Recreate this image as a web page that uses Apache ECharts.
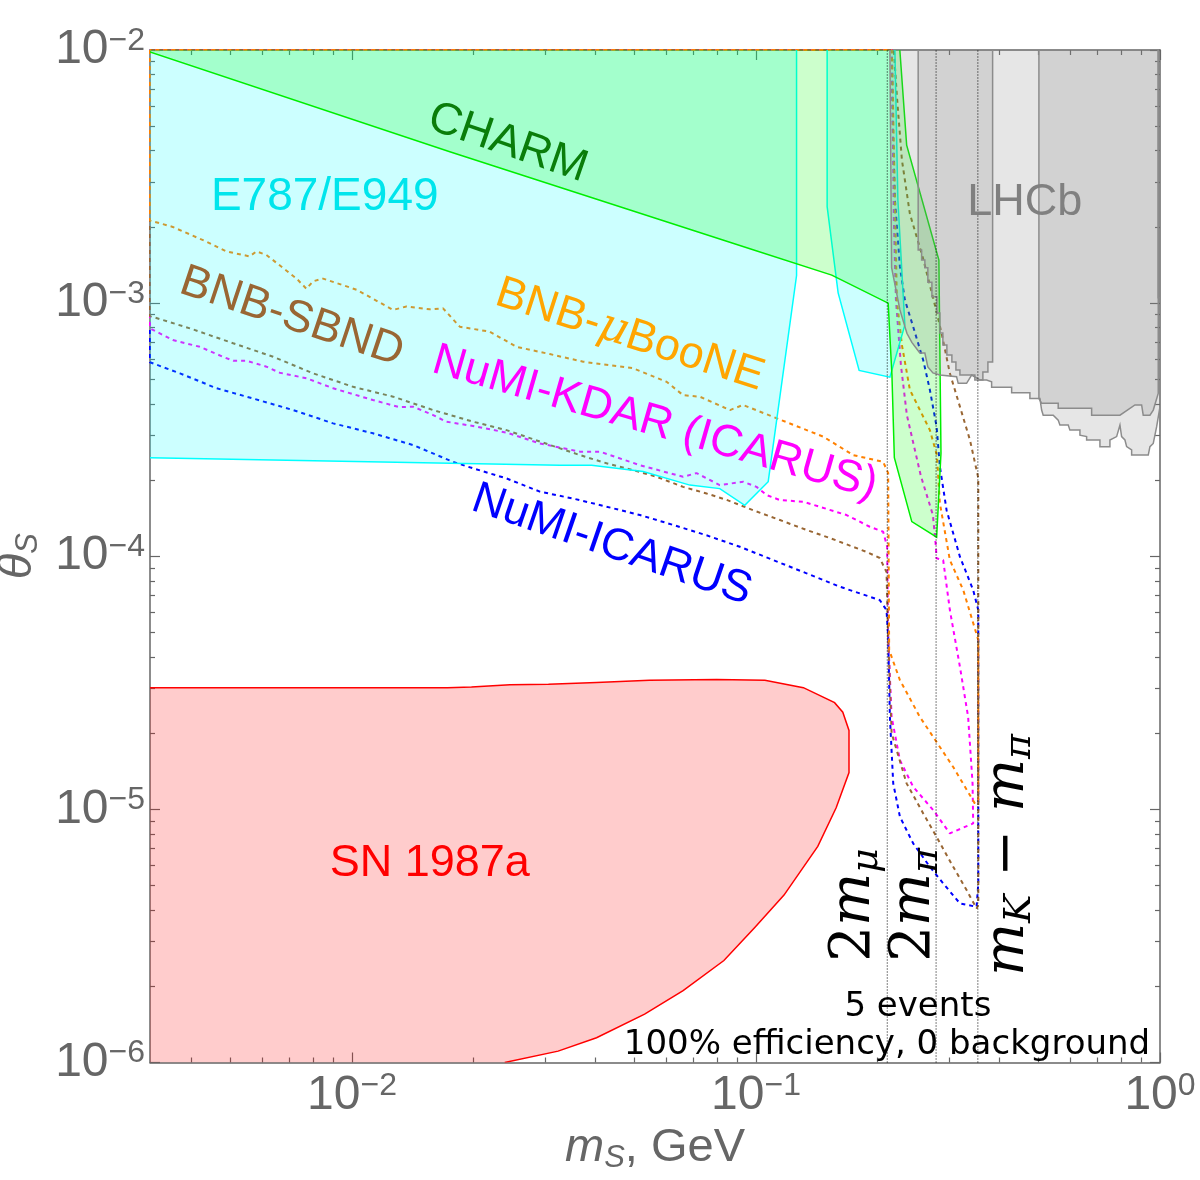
<!DOCTYPE html>
<html><head><meta charset="utf-8">
<script src="https://cdn.jsdelivr.net/npm/echarts@6/dist/echarts.min.js"></script>
<style>html,body{margin:0;padding:0;background:#fff}#c{width:1200px;height:1180px}</style>
</head><body><div id="c"></div>
<script>
// ---------- axis ranges and ticks ----------
const xRange = [0.003162, 1];          // m_S, GeV
const yRange = [1e-6, 1e-2];           // theta_S
const xMajorTicks = [0.01, 0.1, 1];
const xMinorTicks = [0.004,0.005,0.006,0.007,0.008,0.009,0.02,0.03,0.04,0.05,0.06,0.07,0.08,0.09,0.2,0.3,0.4,0.5,0.6,0.7,0.8,0.9];
const yMajorTicks = [1e-6, 1e-5, 1e-4, 1e-3, 1e-2];
const yMinorTicks = [2e-6,3e-6,4e-6,5e-6,6e-6,7e-6,8e-6,9e-6,2e-5,3e-5,4e-5,5e-5,6e-5,7e-5,8e-5,9e-5,2e-4,3e-4,4e-4,5e-4,6e-4,7e-4,8e-4,9e-4,2e-3,3e-3,4e-3,5e-3,6e-3,7e-3,8e-3,9e-3];

// ---------- excluded regions (boundary paths, [m_S, theta_S]) ----------
const charmEdge = [[0.00316,0.00982],[0.01746,0.00396],[0.0966,0.00164],[0.154,0.00129],[0.2124,0.001],[0.217,0.00052],[0.22,0.000245],[0.243,0.000137],[0.28,0.000119],[0.287,0.000256],[0.2836,0.00148],[0.236,0.00421],[0.227,0.01]];
const e787EdgeA = [[0.00316,0.000245],[0.03269,0.000229],[0.03916,0.000229],[0.05256,0.000216],[0.06859,0.000191],[0.08135,0.000185],[0.0938,0.000159],[0.1072,0.000197],[0.126,0.001285],[0.126,0.01]];
const e787EdgeB = [[0.150,0.01],[0.150,0.002404],[0.1597,0.001098],[0.18,0.000542],[0.2145,0.00051],[0.2336,0.00082],[0.2245,0.002555],[0.2207,0.01]];
const snEdge = [[0.00316,3.02e-5],[0.01723,3.02e-5],[0.01975,3.045e-5],[0.0246,3.11e-5],[0.03064,3.12e-5],[0.0403,3.17e-5],[0.05448,3.236e-5],[0.0799,3.26e-5],[0.1052,3.236e-5],[0.131,3.026e-5],[0.1565,2.64e-5],[0.164,2.42e-5],[0.1699,2.05e-5],[0.1699,1.398e-5],[0.1579,1.015e-5],[0.1422,7.14e-6],[0.1173,4.585e-6],[0.09956,3.433e-6],[0.08328,2.529e-6],[0.066,1.922e-6],[0.053,1.552e-6],[0.0403,1.253e-6],[0.03237,1.109e-6],[0.02388,1e-6]];
const lhcbOuterEdge = [[0.2145,0.01],[0.2166,0.00138],[0.2271,0.00094],[0.2363,0.00076],[0.2431,0.0007],[0.2544,0.000635],[0.2618,0.000635],[0.2663,0.00056],[0.2741,0.00053],[0.2852,0.00052],[0.3137,0.000512],[0.3166,0.000482],[0.3321,0.000482],[0.3418,0.00052],[0.3582,0.000497],[0.3722,0.000497],[0.383,0.000489],[0.383,0.000465],[0.4293,0.000465],[0.4293,0.000443],[0.4764,0.000443],[0.4764,0.00042],[0.5044,0.00042],[0.5093,0.000378],[0.5139,0.000361],[0.5441,0.000361],[0.5598,0.000345],[0.5652,0.00033],[0.5927,0.00033],[0.5984,0.000315],[0.6336,0.000315],[0.6336,0.000301],[0.6582,0.000297],[0.6582,0.000288],[0.7101,0.000288],[0.7101,0.000271],[0.7517,0.000271],[0.7517,0.000288],[0.781,0.000297],[0.7959,0.00033],[0.8035,0.000297],[0.8189,0.000288],[0.8268,0.000271],[0.8507,0.000263],[0.8507,0.000251],[0.9352,0.000251],[0.9443,0.000271],[0.9623,0.000279],[0.9811,0.000325],[1.0,0.00039]];
const lhcbBand1Edge = [[0.252,0.01],[0.252,0.00162],[0.257,0.00162],[0.257,0.00148],[0.2618,0.00148],[0.2618,0.00138],[0.2663,0.00138],[0.2663,0.00121],[0.2725,0.00121],[0.2725,0.00106],[0.2804,0.00106],[0.2804,0.000914],[0.2852,0.000914],[0.2852,0.000762],[0.2901,0.000762],[0.2901,0.000683],[0.2968,0.000683],[0.2968,0.000624],[0.3054,0.000624],[0.3054,0.000585],[0.3125,0.000585],[0.3125,0.000544],[0.3197,0.000544],[0.3197,0.00052],[0.3481,0.00052],[0.3481,0.000497],[0.3644,0.000497],[0.3644,0.000534],[0.375,0.000534],[0.375,0.000585],[0.3852,0.000585],[0.3852,0.01]];
const lhcbBand2Edge = [[0.5015,0.01],[0.5015,0.00042],[0.5093,0.000402],[0.5598,0.000402],[0.5598,0.000384],[0.6773,0.000384],[0.6773,0.000361],[0.7959,0.000361],[0.867,0.000396],[0.9006,0.000396],[0.9088,0.000361],[0.9443,0.000361],[0.9623,0.000378],[0.99,0.00044],[0.99,0.01]];
const lhcbBand3Edge = [[0.99,0.01],[0.99,0.00105],[1.0,0.00105]];

// ---------- projected sensitivity contours (5 events) ----------
const bnbMicroBooNE = [[0.00316,0.01],[0.00316,0.00212],[0.0036,0.0020],[0.00436,0.00175],[0.00489,0.0016],[0.00558,0.00153],[0.0058,0.0016],[0.00614,0.00155],[0.00729,0.00125],[0.00771,0.00114],[0.00801,0.00122],[0.00848,0.00125],[0.01026,0.00113],[0.01264,0.00094],[0.01364,0.00097],[0.01558,0.000945],[0.0168,0.000954],[0.01848,0.000807],[0.02193,0.000771],[0.02554,0.000672],[0.03087,0.000629],[0.03733,0.000587],[0.04963,0.000553],[0.06005,0.000489],[0.066,0.000433],[0.0726,0.000427],[0.0862,0.000378],[0.0929,0.000396],[0.1124,0.000351],[0.1466,0.000297],[0.174,0.000251],[0.2064,0.000236],[0.2124,0.000213],[0.2136,4.26e-5],[0.2271,3.24e-5],[0.2544,2.32e-5],[0.3077,1.47e-5],[0.348,1.056e-5],[0.355,1.09e-5],[0.355,4.67e-5],[0.3258,7.35e-5],[0.3019,9.66e-5],[0.2852,0.000162],[0.2804,0.000251],[0.2694,0.000315],[0.2404,0.000454],[0.2297,0.000683],[0.2232,0.00103],[0.2194,0.00414],[0.2169,0.01]];
const bnbSBND = [[0.00316,0.01],[0.00316,0.000889],[0.00397,0.000795],[0.00508,0.000694],[0.00638,0.000614],[0.00801,0.000528],[0.01006,0.000467],[0.01264,0.000427],[0.01588,0.000378],[0.01994,0.00034],[0.02412,0.000315],[0.02917,0.000284],[0.03664,0.000251],[0.04266,0.000233],[0.04963,0.000219],[0.05673,0.000206],[0.06601,0.000188],[0.07543,0.000177],[0.08456,0.000167],[0.0984,0.000152],[0.1146,0.000139],[0.1334,0.000127],[0.1524,0.000118],[0.1878,0.000104],[0.2025,9.84e-5],[0.2104,8.66e-5],[0.2124,4.81e-5],[0.2166,2.0e-5],[0.2229,1.715e-5],[0.2359,1.267e-5],[0.2593,9.64e-6],[0.2799,7.79e-6],[0.3077,5.93e-6],[0.3321,4.8e-6],[0.3516,4.06e-6],[0.355,4.19e-6],[0.355,0.000204],[0.3385,0.000288],[0.3197,0.00039],[0.3019,0.000528],[0.288,0.00076],[0.2772,0.000983],[0.2589,0.00151],[0.2404,0.00225],[0.2297,0.00368],[0.2232,0.00658],[0.2194,0.01]];
const numiKDAR = [[0.00316,0.01],[0.00316,0.000795],[0.0036,0.000715],[0.0042,0.000672],[0.00479,0.000614],[0.00508,0.000592],[0.00548,0.000592],[0.00614,0.000561],[0.00662,0.000531],[0.00771,0.000505],[0.00898,0.000461],[0.01127,0.000414],[0.01313,0.000388],[0.01416,0.00039],[0.01588,0.000361],[0.01713,0.00034],[0.01994,0.000327],[0.02412,0.000308],[0.02917,0.000279],[0.03664,0.000259],[0.04106,0.000259],[0.05158,0.000229],[0.06601,0.000206],[0.07125,0.000213],[0.08135,0.000191],[0.09294,0.000197],[0.1003,0.000188],[0.1062,0.0001745],[0.1146,0.0001667],[0.1308,0.0001642],[0.1676,0.0001455],[0.1913,0.0001308],[0.2064,0.000125],[0.2112,0.000109],[0.2124,4.81e-5],[0.2166,2.32e-5],[0.2271,1.565e-5],[0.2449,1.228e-5],[0.2745,9.94e-6],[0.3019,8.04e-6],[0.3448,8.8e-6],[0.3436,1.267e-5],[0.335,2.32e-5],[0.3197,3.66e-5],[0.3019,6.13e-5],[0.2906,9.66e-5],[0.2799,9.81e-5],[0.2788,0.000109],[0.2741,0.0001455],[0.2559,0.0002075],[0.2363,0.000361],[0.2284,0.000569],[0.222,0.00103],[0.2194,0.00213],[0.2169,0.01]];
const numiICARUS = [[0.00316,0.01],[0.00316,0.000584],[0.00375,0.000528],[0.00462,0.000461],[0.00569,0.00042],[0.00715,0.000378],[0.00898,0.000335],[0.01127,0.000306],[0.01416,0.000275],[0.01779,0.000236],[0.01994,0.0002225],[0.02412,0.000203],[0.02917,0.00018],[0.03526,0.000169],[0.04266,0.000157],[0.05158,0.0001455],[0.06236,0.000133],[0.07543,0.000121],[0.0912,0.000109],[0.1103,9.66e-5],[0.1334,8.56e-5],[0.1612,7.58e-5],[0.1913,6.92e-5],[0.2025,6.71e-5],[0.2104,6.13e-5],[0.2124,4.81e-5],[0.2145,2.32e-5],[0.2186,1.267e-5],[0.2271,9.35e-6],[0.2449,7.34e-6],[0.2694,5.93e-6],[0.2906,5.1e-6],[0.3197,4.25e-6],[0.3516,4.12e-6],[0.355,5.1e-6],[0.355,6.13e-5],[0.3448,7.35e-5],[0.3197,9.96e-5],[0.2963,0.000152],[0.2852,0.000226],[0.2799,0.000325],[0.2694,0.000454],[0.2593,0.000596],[0.2449,0.000807],[0.2336,0.00103],[0.2271,0.00139],[0.2207,0.00256],[0.2182,0.00483],[0.2169,0.01]];

// kinematic thresholds, GeV: 2 m_mu, 2 m_pi, m_K - m_pi
const thresholdMasses = [0.2113, 0.2791, 0.3541];

// ---------- build ----------
const L = Math.log10;
const lg = p => [L(p[0]), L(p[1])];
const AX = '#666666';
const SANS = 'Liberation Sans';

function supLabel(v) {
  const e = Math.round(v);
  return '{b|10}{s|' + (e < 0 ? '\u2212' + (-e) : String(e)) + '}';
}
const tickRich = {
  b: {fontFamily: SANS, fontSize: 48, color: AX, lineHeight: 50},
  s: {fontFamily: SANS, fontSize: 32, color: AX, lineHeight: 22, verticalAlign: 'top'}
};

function mkAxis(dim, grid, pos, ticks, len, withLabel, withLine) {
  const rng = dim === 'x' ? xRange : yRange;
  return {
    type: 'value', gridIndex: grid, position: pos,
    min: L(rng[0]), max: L(rng[1]),
    splitLine: {show: false},
    axisLine: {show: withLine, onZero: false, lineStyle: {color: AX, width: 1.5}},
    axisTick: {show: true, inside: true, length: len, customValues: ticks.map(L), lineStyle: {color: AX, width: 1.2}},
    axisLabel: {show: withLabel, customValues: ticks.map(L), formatter: supLabel, rich: tickRich,
                margin: dim === 'x' ? 8 : 5}
  };
}

const xAxes = [
  mkAxis('x', 0, 'bottom', xMajorTicks, 10, true, true),
  mkAxis('x', 0, 'top', xMajorTicks, 10, false, true),
  mkAxis('x', 1, 'bottom', xMinorTicks, 5, false, false),
  mkAxis('x', 1, 'top', xMinorTicks, 5, false, false)
];
const yAxes = [
  mkAxis('y', 0, 'left', yMajorTicks, 10, true, true),
  mkAxis('y', 0, 'right', yMajorTicks, 10, false, true),
  mkAxis('y', 1, 'left', yMinorTicks, 5, false, false),
  mkAxis('y', 1, 'right', yMinorTicks, 5, false, false)
];
const nameRich = {
  i: {fontFamily: SANS, fontStyle: 'italic', fontSize: 47, color: AX, lineHeight: 52},
  s: {fontFamily: SANS, fontStyle: 'italic', fontSize: 31, color: AX, lineHeight: 24, verticalAlign: 'bottom'},
  n: {fontFamily: SANS, fontSize: 47, color: AX, lineHeight: 52}
};
Object.assign(xAxes[0], {name: '{i|m}{s|S}{n|, GeV}', nameLocation: 'middle', nameGap: 56, nameTextStyle: {rich: nameRich}});
Object.assign(yAxes[0], {name: '{i|\u03b8}{s|S}', nameLocation: 'middle', nameGap: 94, nameRotate: 90, nameTextStyle: {rich: nameRich}});

const corners = {tl: [xRange[0], yRange[1]], tr: [xRange[1], yRange[1]], bl: [xRange[0], yRange[0]]};
function region(edge, close, fill, stroke) {
  return {
    type: 'custom', z: 3, silent: true, clip: true, animation: false,
    data: [lg(edge[0])],
    renderItem: function (params, api) {
      const fillPts = edge.concat(close.map(c => corners[c])).map(p => api.coord(lg(p)));
      const edgePts = edge.map(p => api.coord(lg(p)));
      return {type: 'group', children: [
        {type: 'polygon', shape: {points: fillPts}, style: {fill: fill}},
        {type: 'polyline', shape: {points: edgePts}, style: {stroke: stroke, lineWidth: 1.5, fill: null}}
      ]};
    }
  };
}
function contour(pts, color) {
  const d = pts.map(lg); d.push(d[0]);
  return {type: 'line', z: 2, silent: true, animation: false, symbol: 'none', clip: true,
          data: d, lineStyle: {color: color, width: 2, type: [4, 4], opacity: 1}};
}

const sansRich = (color, size) => ({
  n: {fontFamily: SANS, fontSize: size, color: color},
  i: {fontFamily: 'DejaVu Serif', fontStyle: 'italic', fontSize: size, color: color}
});
const mathRich = {
  r: {fontFamily: 'DejaVu Serif', fontSize: 56, color: '#000', lineHeight: 62},
  i: {fontFamily: 'DejaVu Serif', fontStyle: 'italic', fontSize: 56, color: '#000', lineHeight: 62},
  s: {fontFamily: 'DejaVu Serif', fontStyle: 'italic', fontSize: 38, color: '#000', lineHeight: 30, verticalAlign: 'bottom'}
};
const noteRich = {n: {fontFamily: 'DejaVu Sans', fontSize: 34, color: '#000'}};
const annotations = [
  {fmt: '{n|CHARM}', at: [0.0243, 0.00429], rotate: -19, rich: sansRich('#0a7d0a', 45)},
  {fmt: '{n|E787/E949}', at: [0.00856, 0.00263], rotate: 0, rich: sansRich('#00e5ec', 46)},
  {fmt: '{n|LHCb}', at: [0.4629, 0.00249], rotate: 0, rich: sansRich('#808080', 45)},
  {fmt: '{n|BNB-}{i|\u03bc}{n|BooNE}', at: [0.04872, 0.000748], rotate: -18, rich: sansRich('#ffa500', 45)},
  {fmt: '{n|BNB-SBND}', at: [0.00709, 0.000881], rotate: -18.5, rich: sansRich('#996633', 45)},
  {fmt: '{n|NuMI-KDAR (ICARUS)}', at: [0.05619, 0.000336], rotate: -16, rich: sansRich('#ff00ff', 45)},
  {fmt: '{n|NuMI-ICARUS}', at: [0.04395, 0.0001107], rotate: -19, rich: sansRich('#0000ff', 45)},
  {fmt: '{n|SN 1987a}', at: [0.01558, 6.13e-6], rotate: 0, rich: sansRich('#ff0000', 45)},
  {fmt: '{r|2}{i|m}{s|\u03bc}', at: [0.1757, 4.19e-6], rotate: 90, rich: mathRich},
  {fmt: '{r|2}{i|m}{s|\u03c0}', at: [0.2473, 4.19e-6], rotate: 90, rich: mathRich},
  {fmt: '{i|m}{s|K}{r| \u2212 }{i|m}{s|\u03c0}', at: [0.4204, 6.6e-6], rotate: 90, rich: mathRich},
  {fmt: '{n|5 events}', at: [0.2516, 1.655e-6], rotate: 0, rich: noteRich},
  {fmt: '{n|100% efficiency, 0 background}', at: [0.2109, 1.172e-6], rotate: 0, rich: noteRich}
];

// draw order: blue first, orange last (as in the reference)
const series = [
  contour(numiICARUS, '#0000ff'),
  contour(numiKDAR, '#ff00ff'),
  contour(bnbSBND, '#996633'),
  contour(bnbMicroBooNE, '#ff8000'),
  region(e787EdgeA, ['tl'], 'rgba(0,255,255,0.2)', '#00ffff'),
  region(e787EdgeB, [], 'rgba(0,255,255,0.2)', '#00ffff'),
  region(charmEdge, ['tl'], 'rgba(0,255,0,0.2)', '#00ee00'),
  region(snEdge, ['bl'], 'rgba(255,0,0,0.2)', '#ff0000'),
  region(lhcbOuterEdge, ['tr'], 'rgba(128,128,128,0.2)', '#8c8c8c'),
  region(lhcbBand1Edge, [], 'rgba(128,128,128,0.2)', '#8c8c8c'),
  region(lhcbBand2Edge, [], 'rgba(128,128,128,0.2)', '#8c8c8c'),
  region(lhcbBand3Edge, ['tr'], 'rgba(128,128,128,0.2)', '#8c8c8c')
];
thresholdMasses.forEach(m => series.push({
  type: 'line', z: 4, silent: true, animation: false, symbol: 'none',
  data: [[L(m), L(yRange[0])], [L(m), L(yRange[1])]],
  lineStyle: {color: '#000', width: 1, type: [1, 2]}
}));
annotations.forEach(a => series.push({
  type: 'scatter', z: 10, silent: true, animation: false,
  symbolSize: 1, itemStyle: {color: 'rgba(0,0,0,0)', opacity: 1},
  data: [lg(a.at)],
  label: {show: true, position: 'inside', align: 'center', verticalAlign: 'middle', opacity: 1,
          rotate: a.rotate, formatter: a.fmt, rich: a.rich}
}));

const chart = echarts.init(document.getElementById('c'), null, {renderer: 'canvas'});
chart.setOption({
  animation: false,
  backgroundColor: '#ffffff',
  grid: [
    {left: 150, right: 40, top: 50, bottom: 117.5, outerBoundsMode: 'none', containLabel: false},
    {left: 150, right: 40, top: 50, bottom: 117.5, outerBoundsMode: 'none', containLabel: false}
  ],
  xAxis: xAxes,
  yAxis: yAxes,
  series: series
});
</script></body></html>
